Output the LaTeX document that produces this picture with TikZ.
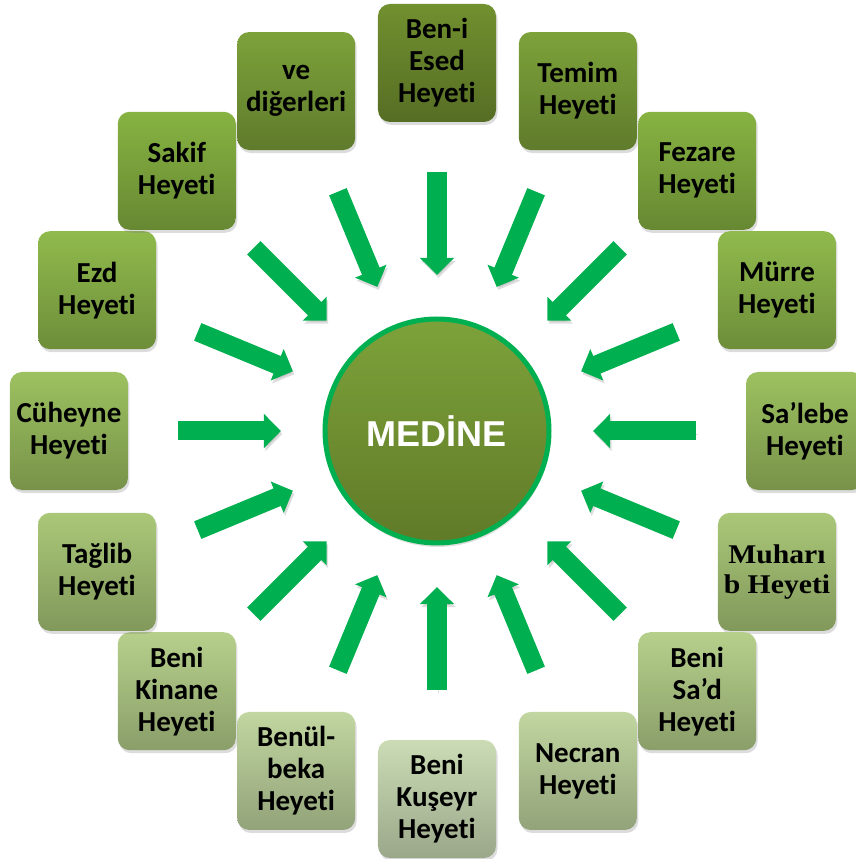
\documentclass[tikz,border=0pt]{standalone}
\usepackage{fontspec}
\setmainfont{Carlito}[Ligatures=NoCommon]
\newfontfamily\titlefont{Liberation Sans}
\newfontfamily\serffont{Liberation Serif}[FakeStretch=1.1]
\usetikzlibrary{arrows.meta, shadows}

\definecolor{ringgreen}{HTML}{00B050}
\definecolor{olvA}{HTML}{71902F}
\definecolor{olvB}{HTML}{7DA23A}
\definecolor{olvC}{HTML}{87B342}
\definecolor{olvD}{HTML}{90BA4C}
\definecolor{olvE}{HTML}{9DC160}
\definecolor{olvF}{HTML}{AAC878}
\definecolor{olvG}{HTML}{B6D08B}
\definecolor{olvH}{HTML}{C1D6A0}
\definecolor{olvI}{HTML}{CBDCB5}

\begin{document}
\begin{tikzpicture}[x=1pt, y=1pt,
    heyet/.style={rounded corners=12pt, minimum width=118pt, minimum height=118pt, inner sep=0pt, align=center,
        font=\fontsize{29}{32}\selectfont\bfseries, top color=#1, bottom color=#1!76!black,
        drop shadow={shadow xshift=1.5pt, shadow yshift=-3pt, opacity=.28}},
    flow/.style={line width=19pt, draw=ringgreen, -{Triangle[width=33pt, length=17pt]},
        shorten <=109pt, shorten >=156pt,
        preaction={draw=black!60, opacity=.22, transform canvas={shift={(1.5pt,-3pt)}}}}]
    \useasboundingbox (-437,-428) rectangle (419,431);

    % center
    \node[circle, minimum size=224pt, line width=5pt, draw=ringgreen, top color=olvB, bottom color=olvA!85!black,
        drop shadow={shadow xshift=1pt, shadow yshift=-4pt, opacity=.25},
        font=\titlefont\fontsize{36}{40}\selectfont\bfseries, text=white] (medine) at (0,0) {MEDİNE};

    % delegations
    \node[heyet=olvA] (esed) at (90:368) {Ben-i\\Esed\\Heyeti};
    \node[heyet=olvB] (temim) at (67.5:368) {Temim\\Heyeti};
    \node[heyet=olvC] (fezare) at (45:368) {Fezare\\Heyeti};
    \node[heyet=olvD] (murre) at (22.5:368) {Mürre\\Heyeti};
    \node[heyet=olvE] (salebe) at (0:368) {Sa’lebe\\Heyeti};
    \node[heyet=olvF, font=\serffont\fontsize{27}{30}\selectfont\bfseries] (muharib) at (-22.5:368) {Muharı\\b Heyeti};
    \node[heyet=olvG] (sad) at (-45:368) {Beni\\Sa’d\\Heyeti};
    \node[heyet=olvH] (necran) at (-67.5:368) {Necran\\Heyeti};
    \node[heyet=olvI] (kuseyr) at (-90:368) {Beni\\Kuşeyr\\Heyeti};
    \node[heyet=olvH] (benulbeka) at (-112.5:368) {Benül-\\beka\\Heyeti};
    \node[heyet=olvG] (kinane) at (-135:368) {Beni\\Kinane\\Heyeti};
    \node[heyet=olvF] (taglib) at (-157.5:368) {Tağlib\\Heyeti};
    \node[heyet=olvE] (cuheyne) at (180:368) {Cüheyne\\Heyeti};
    \node[heyet=olvD] (ezd) at (157.5:368) {Ezd\\Heyeti};
    \node[heyet=olvC] (sakif) at (135:368) {Sakif\\Heyeti};
    \node[heyet=olvB] (digerleri) at (112.5:368) {ve\\diğerleri};

    % arrows into Medine
    \draw[flow] (esed.center) -- (medine.center);
    \draw[flow] (temim.center) -- (medine.center);
    \draw[flow] (fezare.center) -- (medine.center);
    \draw[flow] (murre.center) -- (medine.center);
    \draw[flow] (salebe.center) -- (medine.center);
    \draw[flow] (muharib.center) -- (medine.center);
    \draw[flow] (sad.center) -- (medine.center);
    \draw[flow] (necran.center) -- (medine.center);
    \draw[flow] (kuseyr.center) -- (medine.center);
    \draw[flow] (benulbeka.center) -- (medine.center);
    \draw[flow] (kinane.center) -- (medine.center);
    \draw[flow] (taglib.center) -- (medine.center);
    \draw[flow] (cuheyne.center) -- (medine.center);
    \draw[flow] (ezd.center) -- (medine.center);
    \draw[flow] (sakif.center) -- (medine.center);
    \draw[flow] (digerleri.center) -- (medine.center);
\end{tikzpicture}
\end{document}
